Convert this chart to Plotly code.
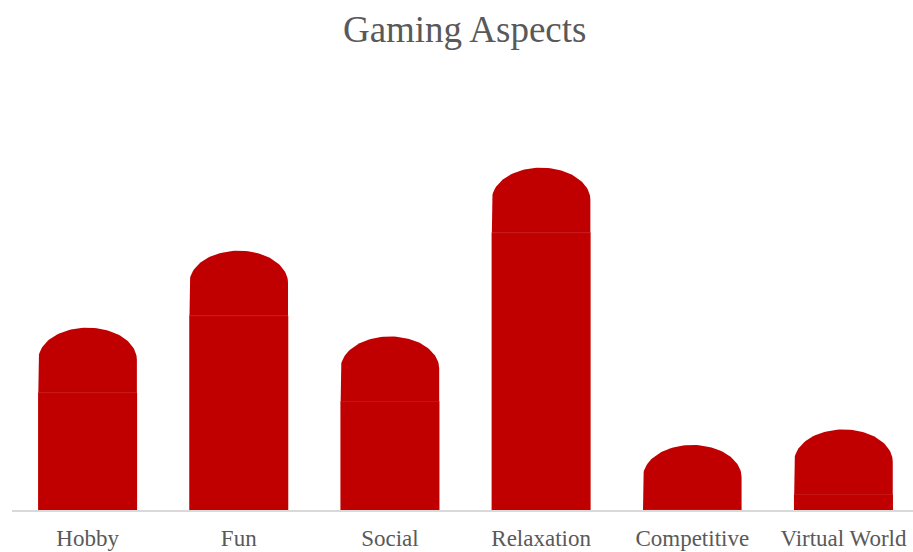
import numpy as np
import plotly.graph_objects as go

# Survey scores per gaming aspect
categories = ["Hobby", "Fun", "Social", "Relaxation", "Competitive", "Virtual World"]
scores = [42.4, 70.2, 39.2, 100.2, 0.0, 5.6]

# Decorative rounded cap placed on top of each bar (in value units)
cap_straight = 11.9   # vertical sides of the cap
cap_dome = 11.6       # elliptical dome height

BAR_COLOR = "#C00000"
TEXT_COLOR = "#595959"
SERIF = "Liberation Serif, Times New Roman, serif"
bar_width = 0.655

xs = list(range(len(categories)))

fig = go.Figure()
fig.add_trace(go.Bar(
    x=xs, y=scores, width=bar_width,
    marker=dict(color=BAR_COLOR, line=dict(width=0)),
    hoverinfo="skip", showlegend=False,
))

# Cap outlines: straight sides plus a half-ellipse dome
half = bar_width / 2 * 0.995
theta = np.linspace(np.pi, 0, 60)
for x, v in zip(xs, scores):
    base = v
    shoulder = v + cap_straight
    cx = [x - half, x - half] + list(x + half * np.cos(theta)) + [x + half, x - half]
    cy = [base, shoulder] + list(shoulder + cap_dome * np.sin(theta)) + [base, base]
    fig.add_trace(go.Scatter(
        x=cx, y=cy, mode="lines", fill="toself",
        fillcolor=BAR_COLOR, line=dict(width=0, color=BAR_COLOR),
        hoverinfo="skip", showlegend=False,
    ))
    # faint seam where the cap meets the bar
    fig.add_trace(go.Scatter(
        x=[x - half, x + half], y=[base, base], mode="lines",
        line=dict(width=1, color="#C61414"),
        hoverinfo="skip", showlegend=False,
    ))

fig.update_layout(
    width=913, height=552,
    margin=dict(l=12, r=0, t=150, b=41.5),
    paper_bgcolor="white", plot_bgcolor="white",
    title=dict(
        text="Gaming Aspects",
        font=dict(family=SERIF, size=37, color=TEXT_COLOR),
        x=0.509, xanchor="center", xref="container",
        y=0.947, yanchor="middle", yref="container",
    ),
    xaxis=dict(
        range=[-0.5, 5.46],
        tickmode="array", tickvals=xs, ticktext=categories,
        tickfont=dict(family=SERIF, size=23, color=TEXT_COLOR),
        ticklabelstandoff=7,
        showgrid=False, zeroline=False,
        showline=True, linecolor="#D9D9D9", linewidth=1.5,
        ticks="",
    ),
    yaxis=dict(
        range=[0, 130.1],
        showgrid=False, zeroline=False, showticklabels=False,
        showline=False, ticks="",
    ),
)

fig.write_html("out.html")
